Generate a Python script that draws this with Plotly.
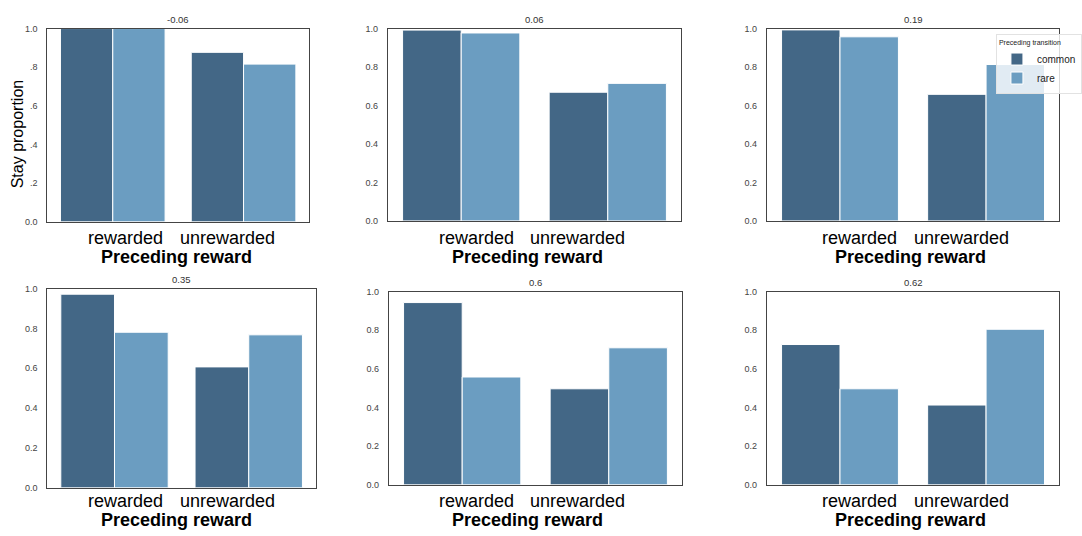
import plotly.graph_objects as go

categories = ["rewarded", "unrewarded"]
series_names = ["common", "rare"]
panel_titles = ["-0.06", "0.06", "0.19", "0.35", "0.6", "0.62"]
common_vals = [
    [1.0, 0.877],
    [0.992, 0.669],
    [0.993, 0.658],
    [0.972, 0.607],
    [0.943, 0.497],
    [0.726, 0.413],
]
rare_vals = [
    [1.0, 0.816],
    [0.977, 0.715],
    [0.957, 0.813],
    [0.781, 0.768],
    [0.558, 0.709],
    [0.497, 0.805],
]
y_ticks = [0.0, 0.2, 0.4, 0.6, 0.8, 1.0]
y_ticktext_first = ["0.0", ".2", ".4", ".6", ".8", "1.0"]
y_ticktext = ["0.0", "0.2", "0.4", "0.6", "0.8", "1.0"]
x_title = "Preceding reward"
y_title = "Stay proportion"
legend_title = "Preceding transition"

W, H = 1082, 536
# panel plot areas in pixels: (left, right, top, bottom)
boxes = [
    (48, 313, 24, 221),
    (393, 690, 24, 220),
    (777, 1073, 24, 220),
    (48, 320, 289, 492),
    (394, 691, 292, 489),
    (777, 1073, 292, 489),
]
# label centers (pixels) for category labels and axis title
label_pos = [
    (126.7, 230.5, 179.2),
    (482.3, 585.3, 534.2),
    (870.8, 973.7, 922.5),
    (126.7, 230.5, 179.2),
    (482.3, 585.3, 534.2),
    (870.8, 973.7, 922.5),
]
row_label_y = [(237, 257), (505, 525)]

dark = "#436786"
light = "#6b9dc1"
font_fam = "Liberation Sans, Arial, sans-serif"

fig = go.Figure()
layout = dict(
    width=W, height=H,
    margin=dict(l=0, r=0, t=0, b=0),
    paper_bgcolor="white", plot_bgcolor="white",
    barmode="group", bargap=0.2, bargroupgap=0,
    font=dict(family=font_fam, color="#333"),
    showlegend=True,
    legend=dict(
        x=1009 / W, y=1 - 30 / H, xanchor="left", yanchor="top",
        bgcolor="rgba(255,255,255,0.8)", bordercolor="#e2e2e2", borderwidth=1,
        font=dict(size=10, color="#222"),
        title=dict(text=legend_title, font=dict(size=7, color="#222")),
        itemwidth=30, tracegroupgap=0,
    ),
)
annotations = []
for i in range(6):
    sfx = "" if i == 0 else str(i + 1)
    l, r, t, b = boxes[i]
    xa = "x" + sfx
    ya = "y" + sfx
    for name, vals, col in [(series_names[0], common_vals[i], dark), (series_names[1], rare_vals[i], light)]:
        fig.add_trace(go.Bar(
            x=[0, 1], y=vals, name=name, xaxis=xa, yaxis=ya,
            marker=dict(color=col, line=dict(color="white", width=1)),
            showlegend=(i == 2), legendgroup=name, offsetgroup=name,
            hovertext=categories,
        ))
    layout["xaxis" + sfx] = dict(
        domain=[l / W, r / W], anchor=ya, range=[-0.5, 1.5],
        showticklabels=False, showgrid=False, zeroline=False,
        showline=True, mirror=True, linecolor="#444", linewidth=1.3, ticks="",
    )
    layout["yaxis" + sfx] = dict(
        domain=[1 - b / H, 1 - t / H], anchor=xa, range=[0, 1.0],
        tickvals=y_ticks, ticktext=(y_ticktext_first if i == 0 else y_ticktext),
        tickfont=dict(size=9, color="#444"), ticks="", ticklabelstandoff=7,
        showgrid=False, zeroline=False,
        showline=True, mirror=True, linecolor="#444", linewidth=1.3,
    )
    # panel title
    annotations.append(dict(
        text=panel_titles[i], x=(l + r) / 2 / W, y=1 - t / H, xref="paper", yref="paper",
        xanchor="center", yanchor="bottom", yshift=2, showarrow=False,
        font=dict(size=9.5, color="#333"),
    ))
    rw, uw, pc = label_pos[i]
    ly, py = row_label_y[i // 3]
    for cx, txt in [(rw, categories[0]), (uw, categories[1])]:
        annotations.append(dict(
            text=txt, x=cx / W, y=1 - ly / H, xref="paper", yref="paper",
            xanchor="center", yanchor="middle", showarrow=False,
            font=dict(size=18, color="black"),
        ))
    annotations.append(dict(
        text="<b>" + x_title + "</b>", x=pc / W, y=1 - py / H, xref="paper", yref="paper",
        xanchor="center", yanchor="middle", showarrow=False,
        font=dict(size=18, color="black"),
    ))

annotations.append(dict(
    text=y_title, x=17.5 / W, y=1 - 131.5 / H, xref="paper", yref="paper",
    xanchor="center", yanchor="middle", textangle=-90, showarrow=False,
    font=dict(size=16, color="black"),
))
layout["annotations"] = annotations
fig.update_layout(**layout)
fig.write_html("out.html")
